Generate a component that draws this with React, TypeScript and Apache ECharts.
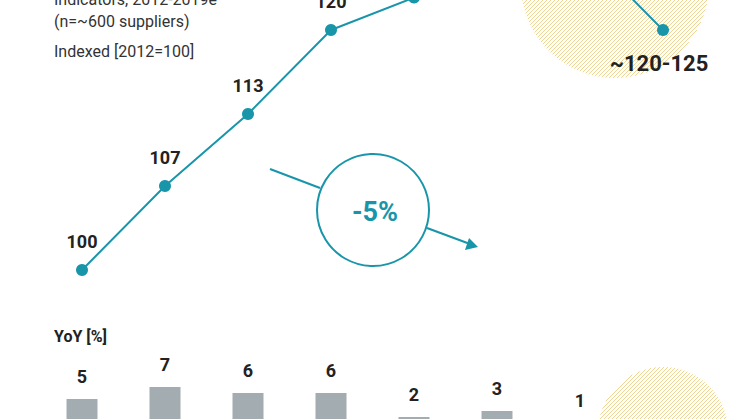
import { useRef, useEffect } from 'react'
import * as echarts from 'echarts'

const years = ['2012', '2013', '2014', '2015', '2016', '2017', '2018', '2019e']
// indexed values [2012=100] (2016-2018 run above the crop)
const indexValues = [100, 107, 113, 120, 122.7, 126, 127, 120]
const indexLabels = ['100', '107', '113', '120', '123', '126', '127', '~120-125']
// year-on-year change [%], no bar for the estimate year
const yoyValues: (number | string)[] = [5, 7, 6, 6, 2, 3, 1, '-']

const TEAL = '#1995aa'
const HATCH = '#efd491'

// diagonal "/" hatching clipped to a circle, stripes on one page-wide grid
function hatchCircle(cx: number, cy: number, r: number, step: number) {
  const children: any[] = []
  const c = cx + cy
  const phase = 3
  const start = Math.ceil((c - r * Math.SQRT2 - phase) / step) * step + phase
  for (let k = start; k <= c + r * Math.SQRT2; k += step) {
    const t = (k - c) / 2
    const d2 = 2 * t * t
    if (d2 >= r * r) continue
    const h = Math.sqrt(r * r - d2) / Math.SQRT2
    const mx = cx + t
    const my = cy + t
    children.push({
      type: 'line',
      silent: true,
      shape: { x1: mx - h, y1: my + h, x2: mx + h, y2: my - h },
      style: { stroke: HATCH, lineWidth: 1 },
    })
  }
  return { type: 'group', z: 0, silent: true, children }
}

export default function App() {
  const chartRef = useRef<HTMLDivElement>(null)

  useEffect(() => {
    if (!chartRef.current) return
    const chart = echarts.init(chartRef.current, undefined, { renderer: 'svg' })

    const textStyle = { fontFamily: 'Roboto', fontSize: 16, fill: '#333' }

    const option: any = {
      animation: false,
      textStyle: { fontFamily: 'Roboto' },
      grid: [
        { left: 82, right: 83, top: 30, height: 240 },
        // the bar baseline sits below the visible window (the chart div is taller)
        { left: 82, right: 83, top: 387, height: 42 },
      ],
      xAxis: [
        { type: 'category', gridIndex: 0, data: years, boundaryGap: false, show: false },
        { type: 'category', gridIndex: 1, data: years, boundaryGap: false, show: false },
      ],
      yAxis: [
        { type: 'value', gridIndex: 0, min: 100, max: 120, show: false },
        { type: 'value', gridIndex: 1, min: 0, max: 7, show: false },
      ],
      graphic: [
        hatchCircle(615, -16, 94, 4),
        hatchCircle(663, 432, 65, 4),
        { type: 'text', x: 54, y: -1, style: { ...textStyle, text: 'Indicators, 2012-2019e', verticalAlign: 'middle' } },
        { type: 'text', x: 54, y: 21, style: { ...textStyle, text: '(n=~600 suppliers)', verticalAlign: 'middle' } },
        { type: 'text', x: 54, y: 51, style: { ...textStyle, text: 'Indexed [2012=100]', verticalAlign: 'middle' } },
        {
          type: 'text', x: 54, y: 336,
          style: { fontFamily: 'Roboto', fontSize: 16, fontWeight: 'bold', fill: '#222', text: 'YoY [%]', verticalAlign: 'middle' },
        },
        { type: 'circle', shape: { cx: 373, cy: 210, r: 56 }, style: { fill: 'none', stroke: TEAL, lineWidth: 2 } },
        {
          type: 'text', x: 375, y: 212,
          style: { fontFamily: 'Roboto', fontSize: 27, fontWeight: 'bold', fill: TEAL, text: '-5%', align: 'center', verticalAlign: 'middle' },
        },
        { type: 'line', shape: { x1: 270, y1: 169, x2: 320, y2: 188 }, style: { stroke: TEAL, lineWidth: 2 } },
        { type: 'line', shape: { x1: 427, y1: 228, x2: 470, y2: 244 }, style: { stroke: TEAL, lineWidth: 2 } },
        { type: 'polygon', shape: { points: [[478, 247], [465, 250], [469, 238]] }, style: { fill: TEAL } },
      ],
      series: [
        {
          type: 'line',
          xAxisIndex: 0,
          yAxisIndex: 0,
          data: indexValues.map((v, i) =>
            i === indexValues.length - 1
              ? { value: v, label: { position: 'bottom', distance: 16, fontSize: 22, offset: [-4, 0] } }
              : v
          ),
          clip: false,
          z: 3,
          symbol: 'circle',
          symbolSize: 12,
          lineStyle: { color: TEAL, width: 2 },
          itemStyle: { color: TEAL },
          label: {
            show: true,
            position: 'top',
            distance: 14,
            fontFamily: 'Roboto',
            fontSize: 18,
            fontWeight: 'bold',
            color: '#222',
            formatter: (p: any) => indexLabels[p.dataIndex],
          },
        },
        {
          type: 'bar',
          xAxisIndex: 1,
          yAxisIndex: 1,
          data: yoyValues,
          barWidth: 31,
          clip: false,
          itemStyle: { color: '#a3acb1' },
          label: {
            show: true,
            position: 'top',
            distance: 14,
            fontFamily: 'Roboto',
            fontSize: 18,
            fontWeight: 'bold',
            color: '#222',
          },
        },
      ],
    }

    chart.setOption(option)
    return () => chart.dispose()
  }, [])

  return (
    <div style={{ position: 'absolute', left: 0, top: 0, width: 746, height: 419, overflow: 'hidden', background: '#fff' }}>
      <div ref={chartRef} style={{ width: 746, height: 480 }} />
    </div>
  )
}
